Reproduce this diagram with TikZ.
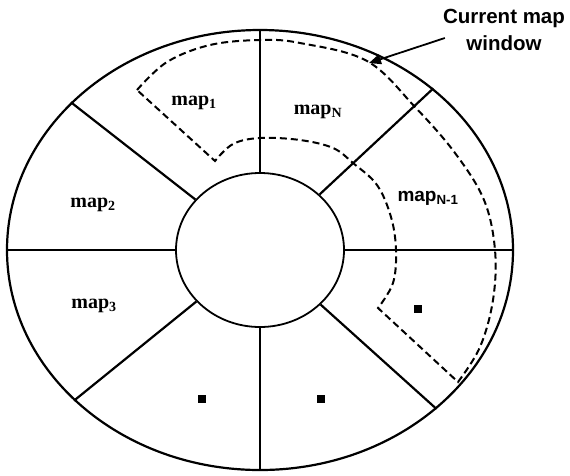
\documentclass[tikz,border=0pt]{standalone}
\usepackage{fontspec}
\setmainfont{Liberation Serif}
\setsansfont{Liberation Sans}
\usetikzlibrary{arrows.meta, shapes.geometric}

\begin{document}
\begin{tikzpicture}[x=1pt, y=-1pt,
  ring/.style={
    ellipse, draw, line width=2.2pt, inner sep=0pt,
    minimum width=506pt, minimum height=440pt},
  hub/.style={
    ellipse, draw, fill=white, line width=1.8pt, inner sep=0pt,
    minimum width=168pt, minimum height=154pt},
  spoke/.style={line width=2.2pt},
  level/.style={line width=1.5pt},
  window/.style={line width=2pt, dash pattern=on 7pt off 4pt},
  maplabel/.style={inner sep=0pt, font=\bfseries\fontsize{20}{22}\selectfont},
  dot/.style={rectangle, fill=black, inner sep=0pt, minimum size=8pt},
  callout/.style={
    align=center, inner sep=0pt,
    font=\sffamily\bfseries\fontsize{20.5}{27}\selectfont},
  pointer/.style={-{Triangle[length=12pt, width=10pt]}, line width=1.8pt},
]
  \useasboundingbox (0,0) rectangle (570,475);

  \node[ring] (ring) at (260,250) {};
  \node[hub] (hub) at (260,250) {};

  % Spokes
  \foreach \a in {43,142,219,318}
    \draw[spoke] (hub.\a) -- (ring.\a);
  \draw[spoke] (hub.90) -- (ring.90);
  \draw[spoke] (hub.270) -- (ring.270);
  \draw[level] (hub.0) -- (ring.0);
  \draw[level] (hub.180) -- (ring.180);

  % Map window (dashed)
  \draw[window] plot[smooth, tension=0.6] coordinates {
      (137,90) (167,62) (210,45) (260,40) (300,43) (367,61) (415,107)
      (455,153) (484,200) (495,250) (493,300) (480,347) (458,382)}
    -- plot[smooth, tension=0.6] coordinates {
      (378,308) (393,283) (396,250) (391,217) (377,185) (353,163)
      (333,148) (300,140) (260,138) (233,144) (215,161)}
    -- cycle;

  % Labels
  \node[maplabel] (m1) at (194,103) {map\textsubscript{1}};
  \node[maplabel] (mN) at (318,112) {map\textsubscript{N}};
  \node[maplabel] (m2) at (93,205) {map\textsubscript{2}};
  \node[maplabel] (m3) at (94,306) {map\textsubscript{3}};
  \node[maplabel, font=\sffamily\bfseries\fontsize{19}{21}\selectfont]
    (mN1) at (428,198) {map\textsubscript{N-1}};

  \node[dot] (d1) at (418,309) {};
  \node[dot] (d2) at (321,399) {};
  \node[dot] (d3) at (202,399) {};

  % Callout
  \node[callout] (cap) at (504,30) {Current map\\window};
  \coordinate (tip) at (369,63);
  \draw[pointer] ([xshift=2pt, yshift=-8pt]cap.west) -- (tip);
\end{tikzpicture}
\end{document}
